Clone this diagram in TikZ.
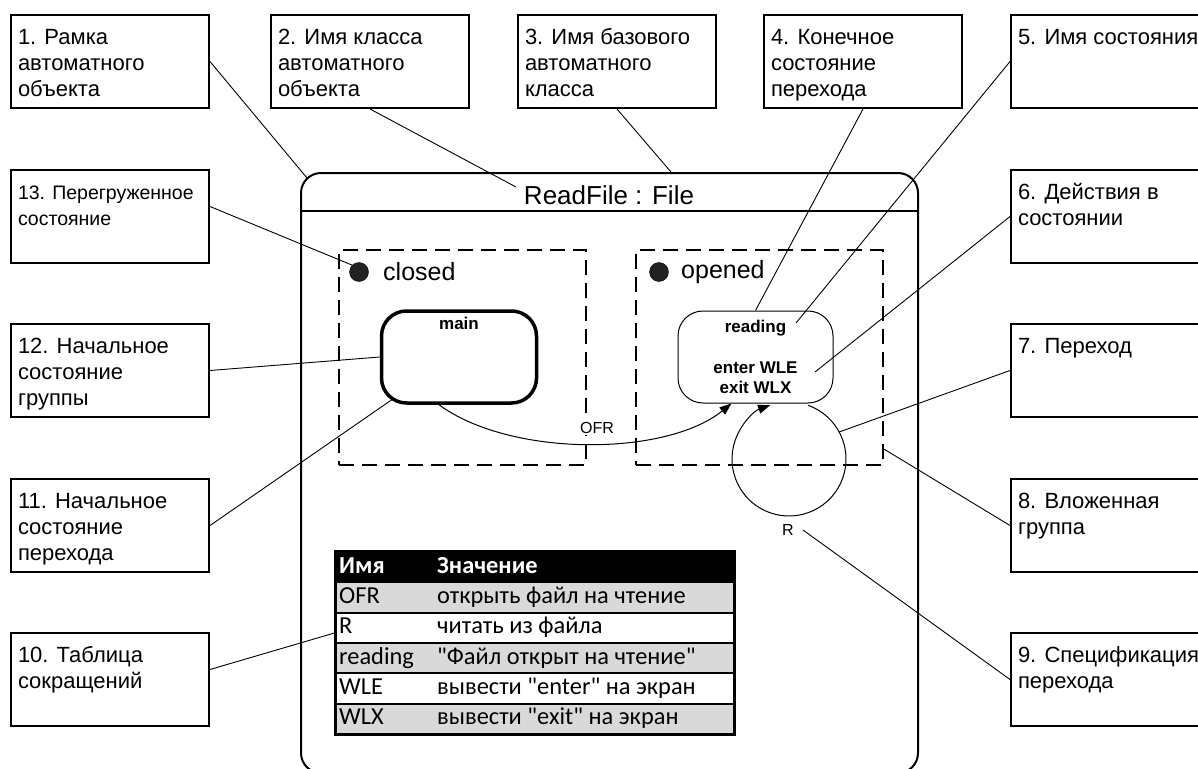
\documentclass[tikz,border=0pt]{standalone}
\usepackage{fontspec}
\setmainfont{Liberation Sans}
\newfontfamily\tabfont{Carlito}
\usepackage{tikz}
\usetikzlibrary{arrows.meta,calc}
\usepackage{xcolor}
\definecolor{rowgray}{RGB}{217,217,217}
\definecolor{dotfill}{RGB}{34,34,34}
\newcommand{\calltxt}[2][\fontsize{22}{26}\selectfont]{\parbox[b][79pt][t]{184pt}{\raggedright#1\rule{0pt}{22pt}#2}}
\tikzset{
	callout/.style={draw,line width=2pt,anchor=north west,inner xsep=7pt,inner ysep=7pt},
	leader/.style={line width=0.9pt},
	group/.style={draw,line width=2.2pt,dash pattern=on 15pt off 8pt,anchor=north west,minimum width=247pt,minimum height=215pt},
	state/.style={draw,fill=white,rounded corners=25pt,minimum width=155pt,minimum height=92pt,align=center,font=\fontsize{17}{20}\selectfont\bfseries},
	dot/.style={circle,draw,fill=dotfill,minimum size=19pt,inner sep=0pt},
	grplbl/.style={anchor=west,inner sep=0pt,font=\fontsize{25}{28}\selectfont},
	trlbl/.style={inner sep=1pt,font=\fontsize{16}{19}\selectfont},
	trans/.style={line width=1pt,-{Triangle[length=12pt,width=9pt]}},
	tabrow/.style={draw,line width=2pt,anchor=north west,minimum width=398pt,minimum height=30.33pt,inner sep=0pt},
	tabtxt/.style={anchor=west,inner sep=0pt,text height=17pt,text depth=5pt,font=\tabfont\fontsize{24.4}{27}\selectfont}
}
\begin{document}
\begin{tikzpicture}[x=1pt,y=-1pt]
			\useasboundingbox (0,0) rectangle (1198,768);
			\clip (0,0) rectangle (1198,768);
			\node [draw,line width=2pt,rounded corners=20pt,minimum width=617pt,minimum height=600pt,anchor=north west] (frame) at (300,172) {};
			\coordinate (hdr) at (608,211);
			\draw [line width=2pt] (frame.west |- hdr) -- (frame.east |- hdr);
			\node [anchor=base,font=\fontsize{26}{30}\selectfont] (title) at (609,204) {ReadFile : File};
			\node [group] (closed) at (338,249) {};
			\node [group] (opened) at (635,249) {};
			\node [dot] (dclosed) at (359,272) {};
			\node [dot] (dopened) at (659,272) {};
			\node [grplbl] (lclosed) at (383,272) {closed};
			\node [grplbl] (lopened) at (681,272) {opened};
			\coordinate (loopc) at (789,459);
			\draw [trans] ($(loopc)+(-70.6:57)$) arc[start angle=-70.6,end angle=250.6,radius=57];
			\node [state,line width=3.5pt] (main) at (459,357) {};
			\node [anchor=north,inner sep=0pt,font=\fontsize{17}{20}\selectfont\bfseries] (lmain) at ([yshift=-8pt]main.north) {main};
			\node [state,line width=1pt] (reading) at (755.5,357) {reading\\[21pt]enter WLE\\exit WLX};
			\draw [trans] ([xshift=-20pt]main.south) .. controls (510,457) and (665,457) .. ([xshift=-24pt]reading.south);
			\node [trlbl,fill=white] (ofr) at (597,428) {OFR};
			\node [trlbl] (rlbl) at (788,530) {R};
			\foreach \nm/\xx/\yy/\txt in {1/10/14/{1. Рамка\\автоматного\\объекта}, 2/270/14/{2. Имя класса\\автоматного\\объекта}, 3/517/14/{3. Имя базового\\автоматного\\класса}, 4/763/14/{4. Конечное\\состояние\\перехода}, 5/1010/14/{5. Имя состояния}, 6/1010/169/{6. Действия в\\состоянии}, 7/1010/323/{7. Переход}, 8/1010/478/{8. Вложенная\\группа}, 9/1010/632/{9. Спецификация\\перехода}, 10/10/632/{10. Таблица\\сокращений}, 11/10/478/{11. Начальное\\состояние\\перехода}, 12/10/323/{12. Начальное\\состояние\\группы}}
				\node [callout] (b\nm) at (\xx,\yy) {\calltxt{\txt}};
			\node [callout] (b13) at (10,169) {\calltxt[\fontsize{19.5}{26}\selectfont]{13. Перегруженное\\состояние}};
			\node [tabrow,fill=black] (row0) at (335,551) {};
			\node [tabtxt,text=white] (nm0) at ([xshift=4pt]row0.west) {\bfseries Имя};
			\node [tabtxt,text=white] (val0) at ([xshift=102pt]row0.west) {\bfseries Значение};
			\foreach \i/\fc/\nm/\val in {1/rowgray/OFR/{открыть файл на чтение}, 2/white/R/{читать из файла}, 3/rowgray/reading/{"Файл открыт на чтение"}, 4/white/WLE/{вывести "enter" на экран}, 5/rowgray/WLX/{вывести "exit" на экран}}
			{
				\node [tabrow,fill=\fc] (row\i) at (335,551+30.33*\i) {};
				\node [tabtxt] (nm\i) at ([xshift=4pt]row\i.west) {\nm};
				\node [tabtxt] (val\i) at ([xshift=102pt]row\i.west) {\val};
			}
			\draw [line width=2.5pt] (row0.north west) rectangle (row5.south east);
			\coordinate (c1) at (307,178);
			\coordinate (c2) at (516,187);
			\coordinate (c3) at (671,172);
			\coordinate (c5) at (796,323);
			\coordinate (c6) at (815,372);
			\coordinate (c7) at ($(loopc)+(-28.3:57)$);
			\draw [leader] (b1.east) -- (c1);
			\draw [leader] (b2.south) -- (c2);
			\draw [leader] (b3.south) -- (c3);
			\draw [leader] (b4.south) -- (reading.north);
			\draw [leader] (b5.west) -- (c5);
			\draw [leader] (b6.west) -- (c6);
			\draw [leader] (b7.west) -- (c7);
			\draw [leader] (b8.west) -- ([yshift=17pt]opened.south east);
			\draw [leader] (b9.west) -- ([xshift=8pt]rlbl.east);
			\draw [leader] ([yshift=10pt]b10.east) -- ([yshift=-5pt]row2.west);
			\draw [leader] (b11.east) -- ($(main.south west)+(12,-5)$);
			\draw [leader] (b12.east) -- (main.west);
			\draw [leader] ([yshift=10pt]b13.east) -- (dclosed.north west);
		\end{tikzpicture}
\end{document}
